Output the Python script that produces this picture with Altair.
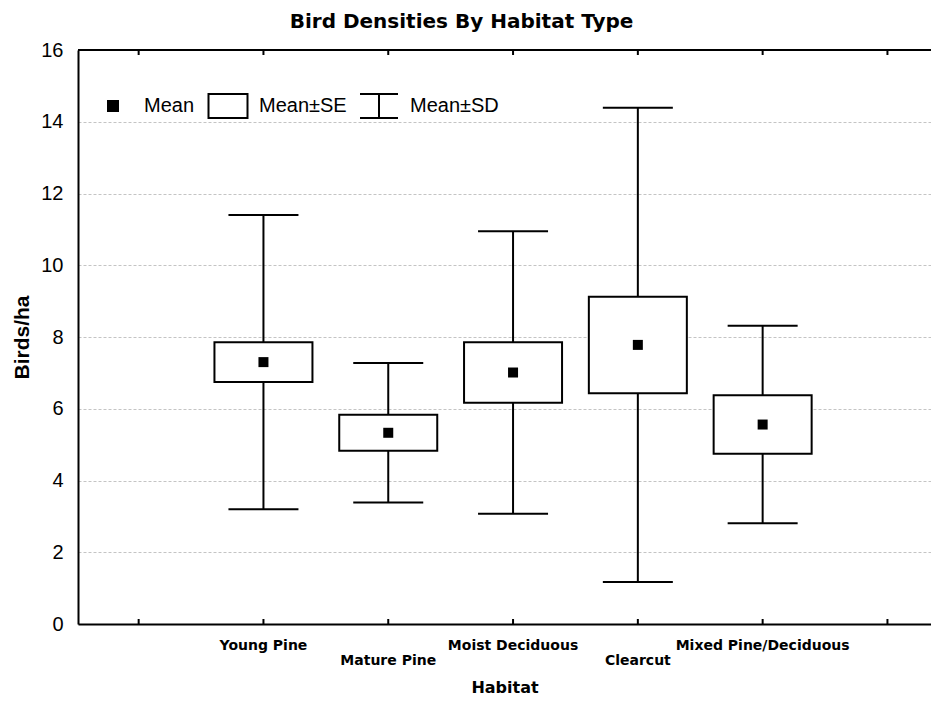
import altair as alt
import pandas as pd

# ---- data ----
habitats = ["Young Pine", "Mature Pine", "Moist Deciduous", "Clearcut", "Mixed Pine/Deciduous"]
positions = [2, 3, 4, 5, 6]
label_rows = [0, 1, 0, 1, 0]
means = [7.30, 5.33, 7.01, 7.78, 5.56]
se = [0.555, 0.50, 0.845, 1.345, 0.815]
sd = [4.10, 1.945, 3.935, 6.61, 2.755]
x_ticks = [1, 2, 3, 4, 5, 6, 7]
y_ticks = [0, 2, 4, 6, 8, 10, 12, 14, 16]
legend_items = ["Mean", "Mean\u00b1SE", "Mean\u00b1SD"]

X_MIN, X_MAX = 0.514, 7.349
Y_MIN, Y_MAX = 0, 16

df = pd.DataFrame({
    "habitat": habitats,
    "pos": positions,
    "row": label_rows,
    "mean": means,
    "se": se,
    "sd": sd,
})
df["se_lo"] = df["mean"] - df["se"]
df["se_hi"] = df["mean"] + df["se"]
df["sd_lo"] = df["mean"] - df["sd"]
df["sd_hi"] = df["mean"] + df["sd"]

ticks_df = pd.DataFrame({"pos": x_ticks})
frame_df = pd.DataFrame({"x0": [X_MIN], "x1": [X_MAX], "ytop": [Y_MAX]})
legend_df = pd.DataFrame({"item": legend_items, "pos": [1, 1, 1], "v": [-5, -5, -5]})

xs = alt.Scale(domain=[X_MIN, X_MAX], nice=False, zero=False)
ys = alt.Scale(domain=[Y_MIN, Y_MAX], nice=False, zero=False)

BLACK = "#000000"

y_axis = alt.Axis(
    title="Birds/ha", values=y_ticks, grid=True, gridDash=[3, 2], gridColor="#c4c4c4",
    gridWidth=1, ticks=False, domain=True, domainColor=BLACK, domainWidth=2,
    labelFont="Liberation Sans", labelFontSize=20, labelColor=BLACK, labelPadding=15,
    titleFont="Liberation Sans", titleFontSize=21, titleFontWeight="bold", titleColor=BLACK,
    titlePadding=8,
)
x_axis = alt.Axis(
    title="Habitat", values=[], labels=False, ticks=False, grid=False, domain=True,
    domainColor=BLACK, domainWidth=2,
    titleFont="DejaVu Sans", titleFontSize=16, titleFontWeight="bold", titleColor=BLACK,
    titlePadding=55,
)

base = alt.Chart(df)

whisker = base.mark_rule(color=BLACK, strokeWidth=2).encode(
    x=alt.X("pos:Q", scale=xs, axis=x_axis),
    y=alt.Y("sd_lo:Q", scale=ys, axis=y_axis),
    y2="sd_hi:Q",
)
cap_hi = base.mark_rule(color=BLACK, strokeWidth=2, xOffset=-35, x2Offset=35).encode(
    x="pos:Q", x2="pos:Q", y="sd_hi:Q",
)
cap_lo = base.mark_rule(color=BLACK, strokeWidth=2, xOffset=-35, x2Offset=35).encode(
    x="pos:Q", x2="pos:Q", y="sd_lo:Q",
)
box = base.mark_rect(fill="white", stroke=BLACK, strokeWidth=2, xOffset=-49, x2Offset=49).encode(
    x="pos:Q", x2="pos:Q", y="se_lo:Q", y2="se_hi:Q",
)
mean_pt = base.mark_square(color=BLACK, size=100, opacity=1, filled=True).encode(
    x="pos:Q", y="mean:Q",
)

labels0 = base.transform_filter("datum.row == 0").mark_text(
    font="DejaVu Sans", fontSize=14, fontWeight="bold", color=BLACK, dy=22, baseline="middle"
).encode(x="pos:Q", y=alt.datum(0), text="habitat:N")
labels1 = base.transform_filter("datum.row == 1").mark_text(
    font="DejaVu Sans", fontSize=14, fontWeight="bold", color=BLACK, dy=37, baseline="middle"
).encode(x="pos:Q", y=alt.datum(0), text="habitat:N")

top_frame = alt.Chart(frame_df).mark_rule(color=BLACK, strokeWidth=2).encode(
    x="x0:Q", x2="x1:Q", y="ytop:Q",
)
tick_top = alt.Chart(ticks_df).mark_rule(color=BLACK, strokeWidth=2, y2Offset=5).encode(
    x="pos:Q", y=alt.datum(Y_MAX), y2=alt.datum(Y_MAX),
)
tick_bot = alt.Chart(ticks_df).mark_rule(color=BLACK, strokeWidth=2, y2Offset=-5).encode(
    x="pos:Q", y=alt.datum(Y_MIN), y2=alt.datum(Y_MIN),
)

# legend symbols (unit square -1..1); zero-length segments only widen the bounds
pad = "M-0.975,-0.6L-0.975,-0.6M0.975,0.6L0.975,0.6"
sq = pad + "".join(
    f"M-{r},-{r}H{r}V{r}H-{r}Z" for r in ("0.25", "0.2", "0.15", "0.1", "0.05")
) + "M-0.02,0H0.02"
bx = "M-0.975,-0.6H0.975V0.6H-0.975Z"
ib = "M-0.95,-0.6H0.95M0,-0.6V0.6M-0.95,0.6H0.95"

legend_layer = alt.Chart(legend_df).mark_point(
    clip=True, color=BLACK, strokeWidth=2, filled=False, opacity=1
).encode(
    x="pos:Q", y="v:Q",
    shape=alt.Shape(
        "item:N",
        scale=alt.Scale(domain=legend_items, range=[sq, bx, ib]),
        legend=alt.Legend(
            title=None, orient="none", legendX=14, legendY=35, direction="horizontal",
            symbolSize=1600, symbolStrokeWidth=2, symbolStrokeColor=BLACK,
            symbolFillColor="transparent", symbolOpacity=1,
            labelFont="Liberation Sans", labelFontSize=20,
            labelColor=BLACK, labelOffset=10, columnPadding=9, padding=0,
            labelLimit=300,
        ),
    ),
)

chart = alt.layer(
    whisker, cap_hi, cap_lo, box, mean_pt, labels0, labels1,
    top_frame, tick_top, tick_bot, legend_layer,
).properties(
    width=853,
    height=574,
    padding={"left": 70, "top": 42, "right": 0, "bottom": 74},
    autosize=alt.AutoSizeParams(type="none"),
    title=alt.TitleParams(
        "Bird Densities By Habitat Type", font="DejaVu Sans", fontSize=20,
        fontWeight="bold", color=BLACK, anchor="middle", dx=-43, offset=8,
    ),
).configure_view(stroke=None).configure(background="white")

chart.save("out.html", embed_options={"renderer": "svg", "actions": False})
